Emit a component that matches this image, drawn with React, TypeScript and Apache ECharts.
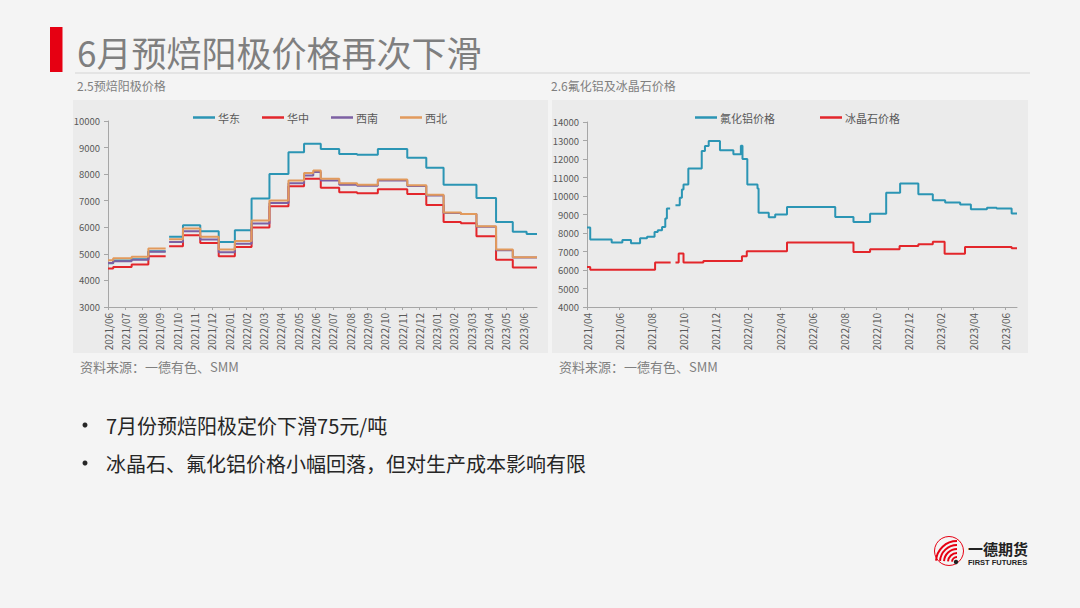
import React, { useEffect, useRef } from 'react';
import * as echarts from 'echarts';

const FONT = "'Noto Sans CJK SC', 'Noto Sans', sans-serif";

// ---------- left chart: 2.5 预焙阳极价格 ----------
const leftTicks = [
  '2021/06', '2021/07', '2021/08', '2021/09', '2021/10', '2021/11', '2021/12',
  '2022/01', '2022/02', '2022/03', '2022/04', '2022/05', '2022/06', '2022/07',
  '2022/08', '2022/09', '2022/10', '2022/11', '2022/12', '2023/01', '2023/02',
  '2023/03', '2023/04', '2023/05', '2023/06',
];
const leftDates = [
  '2021-06-01', '2021-06-10', '2021-07-12', '2021-08-11', '2021-09-11', '2021-09-17',
  '2021-10-11', '2021-11-11', '2021-12-13', '2022-01-11', '2022-02-10', '2022-03-11',
  '2022-04-14', '2022-05-11', '2022-05-27', '2022-06-10', '2022-07-12', '2022-08-13',
  '2022-09-19', '2022-11-10', '2022-12-13', '2023-01-13', '2023-02-13', '2023-03-10',
  '2023-04-14', '2023-05-13', '2023-06-07', '2023-06-25',
];
const eastValues = [4650, 4750, 4800, 5100, null, 5640, 6080, 5850, 5450, 5890, 7080, 8010, 8820, 9140, 9140, 8950, 8760, 8730, 8950, 8620, 8240, 7600, 7600, 7100, 6200, 5830, 5750, 5750];
const centralValues = [4450, 4510, 4600, 4910, null, 5290, 5700, 5410, 4910, 5260, 5990, 6790, 7540, 7830, 7830, 7490, 7320, 7280, 7430, 7250, 6840, 6200, 6150, 5660, 4780, 4490, 4490, 4490];
const southwestValues = [4660, 4720, 4780, 5080, null, 5450, 5850, 5540, 5060, 5380, 6140, 6910, 7660, 7950, 8080, 7760, 7600, 7560, 7760, 7550, 7200, 6540, 6500, 6020, 5140, 4860, 4860, 4860];
const northwestValues = [4760, 4830, 4890, 5200, null, 5550, 5950, 5640, 5160, 5480, 6260, 7010, 7760, 8040, 8140, 7830, 7660, 7600, 7800, 7580, 7220, 6560, 6500, 6040, 5160, 4870, 4870, 4870];
const leftNames = ['华东', '华中', '西南', '西北'];

// ---------- right chart: 2.6 氟化铝及冰晶石价格 ----------
const rightTicks = [
  '2021/04', '2021/06', '2021/08', '2021/10', '2021/12', '2022/02', '2022/04',
  '2022/06', '2022/08', '2022/10', '2022/12', '2023/02', '2023/04', '2023/06',
];
const alfDates = [
  '2021-04-01', '2021-04-07', '2021-05-17', '2021-06-07', '2021-06-23', '2021-07-10',
  '2021-07-23', '2021-08-07', '2021-08-13', '2021-08-21', '2021-08-27', '2021-08-30',
  '2021-09-06', '2021-09-16', '2021-09-24', '2021-09-28', '2021-10-01', '2021-10-10',
  '2021-11-05', '2021-11-11', '2021-11-18', '2021-12-09', '2022-01-04', '2022-01-18',
  '2022-01-21', '2022-01-30', '2022-02-19', '2022-02-21', '2022-03-10', '2022-03-22',
  '2022-04-14', '2022-07-14', '2022-08-18', '2022-09-19', '2022-10-19', '2022-11-15',
  '2022-12-19', '2023-01-16', '2023-02-09', '2023-03-07', '2023-03-27', '2023-04-27',
  '2023-05-15', '2023-06-13', '2023-06-23',
];
const alfValues = [8300, 7650, 7480, 7620, 7450, 7720, 7800, 8050, 8150, 8330, 8780, 9320, null, 9500, 9910, 10350, 10620, 11490, 12430, 12700, 12970, 12470, 12260, 12720, 12000, 10620, 10400, 9100, 8850, 9000, 9400, 8860, 8590, 9040, 10180, 10670, 10090, 9770, 9650, 9540, 9290, 9360, 9320, 9050, 9050];
const cryoDates = [
  '2021-04-01', '2021-04-07', '2021-08-08', '2021-09-07', '2021-09-16', '2021-09-22',
  '2021-10-01', '2021-11-08', '2022-01-20', '2022-01-29', '2022-04-14', '2022-08-18',
  '2022-09-19', '2022-11-14', '2022-12-19', '2023-01-16', '2023-02-08', '2023-03-16',
  '2023-06-13', '2023-06-23',
];
const cryoValues = [6160, 6020, 6400, null, 6400, 6890, 6400, 6490, 6740, 7010, 7480, 6970, 7120, 7300, 7390, 7530, 6880, 7240, 7180, 7180];
const rightNames = ['氟化铝价格', '冰晶石价格'];

const COLORS = {
  teal: '#2b95b4',
  red: '#e3262b',
  purple: '#7d60a3',
  orange: '#e29a5c',
};

// months elapsed since base label "YYYY/MM"
function monthOffset(dateStr: string, baseLabel: string): number {
  const [by, bm] = baseLabel.split('/').map(Number);
  const parts = dateStr.split(/[-/]/).map(Number);
  const y = parts[0], m = parts[1], d = parts[2] || 1;
  return (y - by) * 12 + (m - bm) + (d - 1) / 30;
}

function stepData(dates: string[], values: (number | null)[], base: string) {
  return dates.map((d, i) => [monthOffset(d, base), values[i] == null ? '-' : values[i]]);
}

function buildOption() {
  const leftBase = leftTicks[0];
  const rightBase = rightTicks[0];
  const leftTickVals = leftTicks.map((t) => monthOffset(t, leftBase));
  const rightTickVals = rightTicks.map((t) => monthOffset(t, rightBase));
  const leftMax = monthOffset(leftDates[leftDates.length - 1], leftBase);
  const rightMax = Math.max(
    monthOffset(alfDates[alfDates.length - 1], rightBase),
    monthOffset(cryoDates[cryoDates.length - 1], rightBase)
  );

  const axisColor = '#a6a6a6';
  const labelColor = '#595959';

  const xAxisCommon = (gridIndex: number, max: number, ticks: string[], tickVals: number[], interval: number) => ({
    type: 'value',
    gridIndex,
    min: 0,
    max,
    interval,
    axisLine: { show: true, lineStyle: { color: axisColor, width: 1 } },
    axisTick: { show: true, length: 3, customValues: tickVals, lineStyle: { color: axisColor } },
    splitLine: { show: false },
    axisLabel: {
      customValues: tickVals,
      rotate: 90,
      margin: 6,
      fontSize: 10,
      color: labelColor,
      fontFamily: FONT,
      formatter: (v: number) => {
        const idx = tickVals.findIndex((t) => Math.abs(t - v) < 1e-6);
        return idx >= 0 ? ticks[idx] : '';
      },
    },
  });

  const yAxisCommon = (gridIndex: number, min: number, max: number) => ({
    type: 'value',
    gridIndex,
    min,
    max,
    interval: 1000,
    axisLine: { show: true, lineStyle: { color: axisColor, width: 1 } },
    axisTick: { show: true, length: 4, lineStyle: { color: axisColor } },
    splitLine: { show: false },
    axisLabel: {
      fontSize: 9.5,
      color: labelColor,
      margin: 8,
      fontFamily: FONT,
      formatter: (v: number) => String(v),
    },
  });

  const lineSeries = (name: string, color: string, data: any[], axisIndex: number) => ({
    type: 'line',
    name,
    xAxisIndex: axisIndex,
    yAxisIndex: axisIndex,
    step: 'end',
    symbol: 'none',
    showSymbol: false,
    connectNulls: false,
    data,
    lineStyle: { width: 2, color },
    itemStyle: { color },
    emphasis: { disabled: true },
  });

  const txt = (text: string, x: number, y: number, fontSize: number, fill: string, extra: any = {}) => ({
    type: 'text',
    x,
    y,
    silent: true,
    style: {
      text,
      fill,
      fontSize,
      fontFamily: extra.fontFamily || FONT,
      fontWeight: extra.fontWeight || 'normal',
      align: extra.align || 'left',
      verticalAlign: 'middle',
      textAlign: extra.align || 'left',
      textVerticalAlign: 'middle',
    },
  });

  const logoArcs = [5, 9, 13, 17, 21].map((r) => ({
    type: 'arc',
    silent: true,
    shape: { cx: 957, cy: 562, r, startAngle: Math.PI * 1.02, endAngle: Math.PI * 1.5, clockwise: true },
    style: { stroke: '#e60012', lineWidth: 2, fill: null },
  }));

  const legendCommon = {
    top: 107,
    icon: 'rect',
    itemWidth: 22,
    itemHeight: 2.5,
    textStyle: { fontSize: 11, color: labelColor, fontFamily: FONT, padding: [0, 0, 0, -2] },
  };

  return {
    animation: false,
    backgroundColor: '#f4f4f4',
    textStyle: { fontFamily: FONT },
    grid: [
      { left: 108, top: 121, width: 429, height: 186, containLabel: false },
      { left: 587, top: 122, width: 430, height: 185, containLabel: false },
    ],
    legend: [
      { ...legendCommon, data: leftNames, left: 188, itemGap: 22 },
      { ...legendCommon, data: rightNames, left: 690, itemGap: 45 },
    ],
    xAxis: [
      xAxisCommon(0, leftMax, leftTicks, leftTickVals, 1),
      xAxisCommon(1, rightMax, rightTicks, rightTickVals, 2),
    ],
    yAxis: [yAxisCommon(0, 3000, 10000), yAxisCommon(1, 4000, 14000)],
    series: [
      lineSeries(leftNames[0], COLORS.teal, stepData(leftDates, eastValues, leftBase), 0),
      lineSeries(leftNames[1], COLORS.red, stepData(leftDates, centralValues, leftBase), 0),
      lineSeries(leftNames[2], COLORS.purple, stepData(leftDates, southwestValues, leftBase), 0),
      lineSeries(leftNames[3], COLORS.orange, stepData(leftDates, northwestValues, leftBase), 0),
      lineSeries(rightNames[0], COLORS.teal, stepData(alfDates, alfValues, rightBase), 1),
      lineSeries(rightNames[1], COLORS.red, stepData(cryoDates, cryoValues, rightBase), 1),
    ],
    graphic: [
      { type: 'rect', z: -10, silent: true, shape: { x: 73, y: 100, width: 475, height: 253 }, style: { fill: '#ebebeb' } },
      { type: 'rect', z: -10, silent: true, shape: { x: 552, y: 100, width: 476, height: 253 }, style: { fill: '#ebebeb' } },
      { type: 'rect', silent: true, shape: { x: 50, y: 27, width: 12.5, height: 45 }, style: { fill: '#e60012' } },
      { type: 'line', silent: true, shape: { x1: 75, y1: 73, x2: 1030, y2: 73 }, style: { stroke: '#d4d4d4', lineWidth: 1 } },
      txt('6月预焙阳极价格再次下滑', 77, 51, 35, '#7f7f7f'),
      txt('2.5预焙阳极价格', 77, 85, 12, '#7f7f7f'),
      txt('2.6氟化铝及冰晶石价格', 551, 85, 12, '#7f7f7f'),
      txt('资料来源：一德有色、SMM', 80, 366, 13, '#808080'),
      txt('资料来源：一德有色、SMM', 559, 366, 13, '#808080'),
      { type: 'circle', silent: true, shape: { cx: 85, cy: 425, r: 2.5 }, style: { fill: '#262626' } },
      txt('7月份预焙阳极定价下滑75元/吨', 106, 425, 20, '#262626'),
      { type: 'circle', silent: true, shape: { cx: 85, cy: 463, r: 2.5 }, style: { fill: '#262626' } },
      txt('冰晶石、氟化铝价格小幅回落，但对生产成本影响有限', 106, 463, 20, '#262626'),
      // logo
      { type: 'circle', silent: true, shape: { cx: 949, cy: 551, r: 14.5 }, style: { fill: null, stroke: '#e60012', lineWidth: 1 } },
      ...logoArcs,
      { type: 'circle', silent: true, shape: { cx: 956, cy: 562, r: 2.2 }, style: { fill: '#222222' } },
      txt('一德期货', 968, 548, 15, '#222222', { fontWeight: 'bold' }),
      txt('FIRST FUTURES', 968, 562.5, 7.5, '#222222', { fontWeight: 'bold', fontFamily: "'Liberation Sans', Arial, sans-serif" }),
    ],
  };
}

export default function App() {
  const ref = useRef<HTMLDivElement>(null);
  useEffect(() => {
    if (!ref.current) return;
    const chart = echarts.init(ref.current, null, { renderer: 'svg', width: 1080, height: 608 });
    chart.setOption(buildOption() as any);
    return () => chart.dispose();
  }, []);
  return (
    <div
      ref={ref}
      style={{ position: 'absolute', left: 0, top: 0, width: 1080, height: 608 }}
    />
  );
}
